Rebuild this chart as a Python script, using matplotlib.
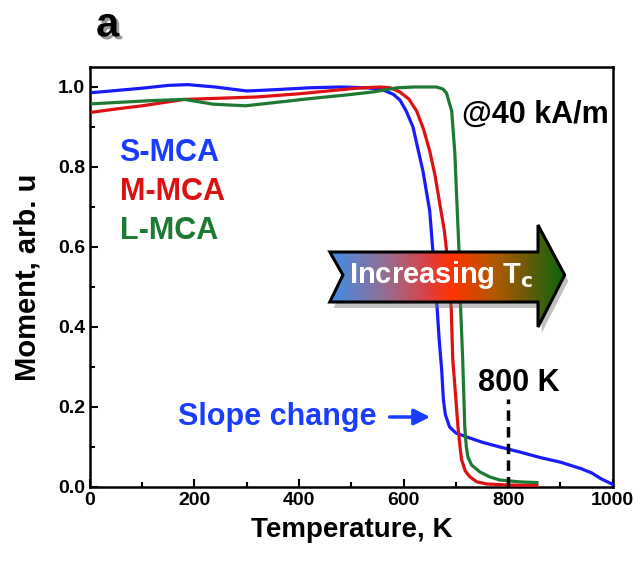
import numpy as np
import matplotlib.pyplot as plt
from matplotlib.patches import Polygon
from matplotlib.colors import LinearSegmentedColormap
from matplotlib.ticker import MultipleLocator
import matplotlib.patheffects as pe

plt.rcParams['font.family'] = ['Liberation Sans', 'DejaVu Sans']
plt.rcParams['font.weight'] = 'bold'

# S-MCA (blue)
t_s = [5, 40, 100, 150, 187, 240, 300, 350, 420, 480, 530, 560, 580, 593,
       605, 618, 637, 650, 656, 662, 668, 673, 676, 680, 688, 700, 721, 750,
       784, 822, 860, 900, 939, 960, 977, 999]
m_s = [0.986, 0.99, 0.997, 1.004, 1.006, 1.0, 0.99, 0.993, 0.998, 1.0, 0.998,
       0.993, 0.982, 0.9675, 0.94, 0.9, 0.79, 0.69, 0.59, 0.49, 0.37, 0.29,
       0.22, 0.18, 0.15, 0.135, 0.125, 0.112, 0.1, 0.0875, 0.074, 0.062,
       0.046, 0.035, 0.021, 0.007]
# M-MCA (red)
t_m = [5, 50, 100, 181, 250, 318, 400, 455, 510, 555, 575, 593, 610, 625,
       638, 650, 660, 669, 678, 684, 691, 694, 700, 704, 708, 711, 718, 727,
       740, 759, 800, 855]
m_m = [0.937, 0.945, 0.953, 0.969, 0.972, 0.975, 0.983, 0.99, 0.997, 1.0,
       0.998, 0.9875, 0.97, 0.94, 0.895, 0.84, 0.78, 0.71, 0.64, 0.57, 0.45,
       0.32, 0.22, 0.15, 0.1, 0.0675, 0.04, 0.025, 0.013, 0.0075, 0.005,
       0.004]
# L-MCA (green)
t_l = [5, 60, 120, 181, 236, 298, 360, 421, 490, 544, 587, 620, 663, 675,
       682, 692, 698, 702, 706, 709, 713, 717, 720, 723, 730, 746, 765, 784,
       820, 855]
m_l = [0.958, 0.962, 0.966, 0.969, 0.957, 0.953, 0.962, 0.971, 0.98, 0.988,
       0.998, 1.0, 1.0, 0.995, 0.985, 0.94, 0.835, 0.71, 0.59, 0.45, 0.32,
       0.15, 0.1, 0.075, 0.055, 0.0375, 0.025, 0.0175, 0.013, 0.011]

blue, red, green = '#1a1aff', '#dd1111', '#1e7a32'

fig = plt.figure(figsize=(6.41, 5.63), dpi=100)
ax = fig.add_axes([0.140, 0.135, 0.816, 0.746])

ax.plot(t_s, m_s, color=blue, lw=2.3, zorder=3)
ax.plot(t_m, m_m, color=red, lw=2.3, zorder=3)
ax.plot(t_l, m_l, color=green, lw=2.3, zorder=3)

ax.set_xlim(0, 1000)
ax.set_ylim(0, 1.05)
ax.xaxis.set_major_locator(MultipleLocator(200))
ax.xaxis.set_minor_locator(MultipleLocator(100))
ax.yaxis.set_major_locator(MultipleLocator(0.2))
ax.yaxis.set_minor_locator(MultipleLocator(0.1))
ax.yaxis.set_major_formatter(plt.FuncFormatter(lambda v, p: f'{v:.1f}'))
ax.tick_params(which='both', direction='in', width=1.5, labelsize=14)
ax.tick_params(which='major', length=6)
ax.tick_params(which='minor', length=3.5)
for s in ax.spines.values():
    s.set_linewidth(1.8)

ax.set_xlabel('Temperature, K', fontsize=20, fontweight='bold', labelpad=6)
ax.set_ylabel('Moment, arb. u', fontsize=21, fontweight='bold', labelpad=12)

# dashed 800 K marker
ax.plot([800, 800], [0, 0.22], color='black', lw=2.5, ls=(0, (3, 1.8)),
        zorder=4)
ax.text(820, 0.26, '800 K', fontsize=22, ha='center', va='center')

ax.text(712, 0.93, '@40 kA/m', fontsize=22, ha='left', va='center')
ax.text(57, 0.835, 'S-MCA', fontsize=22, color='#1a3cff', ha='left', va='center')
ax.text(57, 0.7375, 'M-MCA', fontsize=22, color=red, ha='left', va='center')
ax.text(57, 0.64, 'L-MCA', fontsize=22, color=green, ha='left', va='center')

ax.text(168, 0.175, 'Slope change', fontsize=22, color='#1a3cff', ha='left',
        va='center')
ax.annotate('', xy=(656, 0.175), xytext=(568, 0.175),
            arrowprops=dict(arrowstyle='-|>', color='#1a3cff', lw=2.5,
                            mutation_scale=24))

# gradient arrow "Increasing Tc"
x0, xn, xb, xt = 459, 484, 857, 908
yb, ytp, yhb, yht, yc = 0.4625, 0.5875, 0.40, 0.655, 0.53
verts = [(x0, ytp), (xb, ytp), (xb, yht), (xt, yc), (xb, yhb), (xb, yb),
         (x0, yb), (xn, yc)]
shadow = Polygon([(x + 7, y - 0.015) for x, y in verts], closed=True,
                 fc='#777777', ec='none', alpha=0.45, zorder=5)
ax.add_patch(shadow)
poly = Polygon(verts, closed=True, fc='none', ec='black', lw=2.2, zorder=7)
ax.add_patch(poly)
cmap = LinearSegmentedColormap.from_list(
    'tc', [(0, '#3d8fe8'), (0.25, '#9b6b8c'), (0.42, '#dd4040'),
           (0.52, '#ff3300'), (0.7, '#b05a00'), (0.84, '#6a5a08'),
           (1, '#06680e')])
grad = np.linspace(0, 1, 256).reshape(1, -1)
im = ax.imshow(grad, cmap=cmap, extent=[x0, xt, yhb, yht], aspect='auto',
               zorder=6)
im.set_clip_path(poly)
ax.text(672, 0.53, r'Increasing T$_\mathbf{c}$', fontsize=21, color='white',
        ha='center', va='center', zorder=8)

fig.text(0.168, 0.955, 'a', fontsize=30, fontweight='bold', ha='center',
         va='center', path_effects=[pe.withSimplePatchShadow(offset=(2, -2),
                                                             alpha=0.4)])

fig.savefig('out.png', dpi=100)
plt.close(fig)
